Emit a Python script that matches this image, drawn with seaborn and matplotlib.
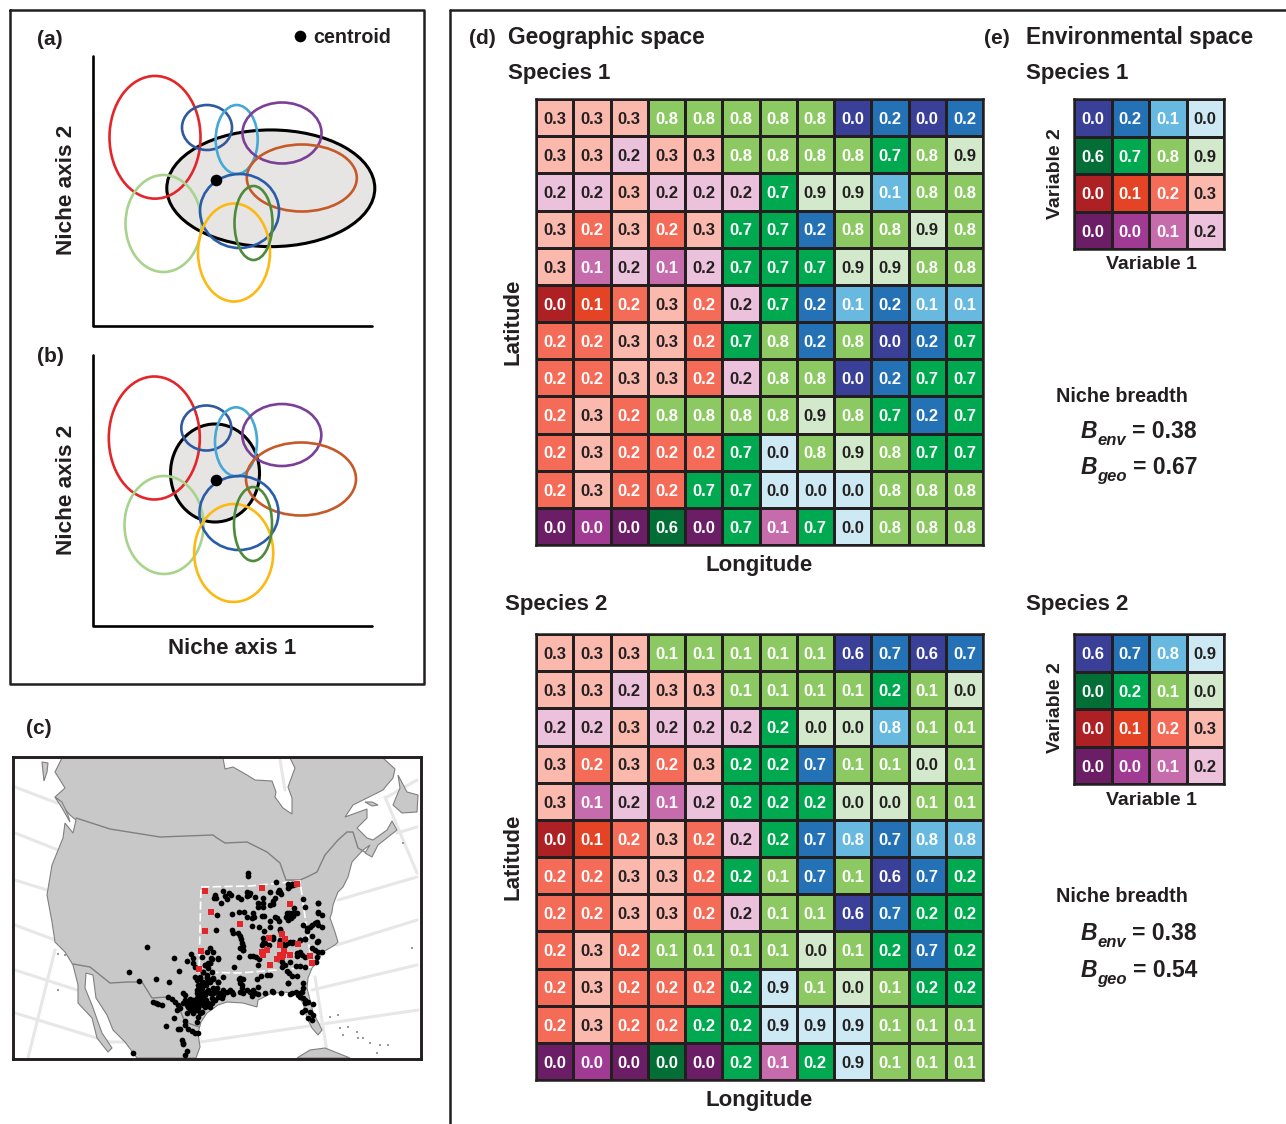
import numpy as np
import pandas as pd
import matplotlib
matplotlib.use("Agg")
import matplotlib.pyplot as plt
import seaborn as sns
from matplotlib.colors import ListedColormap
from matplotlib.patches import Ellipse, Polygon

sns.set_theme(style="white")
plt.rcParams["font.family"] = ["Liberation Sans", "DejaVu Sans"]
plt.rcParams["font.weight"] = "bold"

W, H = 1286, 1124
INK = "#231F20"

#16 environmental classes
class_names = ["B1", "B2", "B3", "B4", "G1", "G2", "G3", "G4",
               "R1", "R2", "R3", "R4", "P1", "P2", "P3", "P4"]
class_colors = ["#3A3F98", "#2472B5", "#68B9E0", "#CDE9F4",
                "#036F37", "#00A94F", "#8DC963", "#D2EACB",
                "#AD2023", "#E54325", "#F46B58", "#FBB9AE",
                "#6B1D66", "#A03A93", "#C66BAC", "#EBC1DC"]

geo_class = [
    "R4 R4 R4 G3 G3 G3 G3 G3 B1 B2 B1 B2",
    "R4 R4 P4 R4 R4 G3 G3 G3 G3 G2 G3 G4",
    "P4 P4 R4 P4 P4 P4 G2 G4 G4 B3 G3 G3",
    "R4 R3 R4 R3 R4 G2 G2 B2 G3 G3 G4 G3",
    "R4 P3 P4 P3 P4 G2 G2 G2 G4 G4 G3 G3",
    "R1 R2 R3 R4 R3 P4 G2 B2 B3 B2 B3 B3",
    "R3 R3 R4 R4 R3 G2 G3 B2 G3 B1 B2 G2",
    "R3 R3 R4 R4 R3 P4 G3 G3 B1 B2 G2 G2",
    "R3 R4 R3 G3 G3 G3 G3 G4 G3 G2 B2 G2",
    "R3 R4 R3 R3 R3 G2 B4 G3 G4 G3 G2 G2",
    "R3 R4 R3 R3 G2 G2 B4 B4 B4 G3 G3 G3",
    "P1 P2 P1 G1 P1 G2 P3 G2 B4 G3 G3 G3",
]
geo_sp1 = [
    [.3, .3, .3, .8, .8, .8, .8, .8, .0, .2, .0, .2],
    [.3, .3, .2, .3, .3, .8, .8, .8, .8, .7, .8, .9],
    [.2, .2, .3, .2, .2, .2, .7, .9, .9, .1, .8, .8],
    [.3, .2, .3, .2, .3, .7, .7, .2, .8, .8, .9, .8],
    [.3, .1, .2, .1, .2, .7, .7, .7, .9, .9, .8, .8],
    [.0, .1, .2, .3, .2, .2, .7, .2, .1, .2, .1, .1],
    [.2, .2, .3, .3, .2, .7, .8, .2, .8, .0, .2, .7],
    [.2, .2, .3, .3, .2, .2, .8, .8, .0, .2, .7, .7],
    [.2, .3, .2, .8, .8, .8, .8, .9, .8, .7, .2, .7],
    [.2, .3, .2, .2, .2, .7, .0, .8, .9, .8, .7, .7],
    [.2, .3, .2, .2, .7, .7, .0, .0, .0, .8, .8, .8],
    [.0, .0, .0, .6, .0, .7, .1, .7, .0, .8, .8, .8],
]
geo_sp2 = [
    [.3, .3, .3, .1, .1, .1, .1, .1, .6, .7, .6, .7],
    [.3, .3, .2, .3, .3, .1, .1, .1, .1, .2, .1, .0],
    [.2, .2, .3, .2, .2, .2, .2, .0, .0, .8, .1, .1],
    [.3, .2, .3, .2, .3, .2, .2, .7, .1, .1, .0, .1],
    [.3, .1, .2, .1, .2, .2, .2, .2, .0, .0, .1, .1],
    [.0, .1, .2, .3, .2, .2, .2, .7, .8, .7, .8, .8],
    [.2, .2, .3, .3, .2, .2, .1, .7, .1, .6, .7, .2],
    [.2, .2, .3, .3, .2, .2, .1, .1, .6, .7, .2, .2],
    [.2, .3, .2, .1, .1, .1, .1, .0, .1, .2, .7, .2],
    [.2, .3, .2, .2, .2, .2, .9, .1, .0, .1, .2, .2],
    [.2, .3, .2, .2, .2, .2, .9, .9, .9, .1, .1, .1],
    [.0, .0, .0, .0, .0, .2, .1, .2, .9, .1, .1, .1],
]
env_class = ["B1 B2 B3 B4", "G1 G2 G3 G4", "R1 R2 R3 R4", "P1 P2 P3 P4"]
env_sp1 = [[.0, .2, .1, .0], [.6, .7, .8, .9], [.0, .1, .2, .3], [.0, .0, .1, .2]]
env_sp2 = [[.6, .7, .8, .9], [.0, .2, .1, .0], [.0, .1, .2, .3], [.0, .0, .1, .2]]

#niche ellipses, order: gray, red, navy, sky, purple, orange, pale green, blue, yellow, dark green
ell_colors = ["#000000", "#E2262A", "#31599E", "#45A8D5", "#7B3F98", "#C55A28",
              "#A8D38D", "#2A5CA8", "#FDB913", "#4F8A3A"]
a_cx = [270.8, 155, 207, 236.7, 282, 301.8, 163.5, 239.5, 234, 253.5]
a_cy = [188.3, 137.3, 127.5, 139.5, 133, 178, 223.5, 211, 252.5, 223]
a_w = [208, 91, 50, 42, 79, 110, 76, 79, 72, 38]
a_h = [116.7, 122.7, 45, 69, 61, 67, 97, 74, 98, 74]
b_cx = [215, 154.3, 206.3, 236, 281.8, 301, 164, 239, 233.7, 253]
b_cy = [473, 438, 428, 441.8, 435, 479, 525, 513, 553, 524]
b_w = [89, 91, 50, 42, 79, 110, 79, 79, 79, 38]
b_h = [98, 123, 45, 69, 62, 73, 98, 74, 98, 74]

#map outlines, read in picture pixels
land_x = [62, 223, 225, 233, 247, 255, 272, 276, 275, 283, 292, 292, 288, 295, 290, 383, 395, 393, 387, 383,
          353, 345, 367, 367, 357, 367, 373, 387, 392, 397, 378, 372, 365, 370, 363, 352, 348, 343, 338, 336,
          333, 332, 330, 335, 338, 335, 323, 317, 312, 308, 307, 313, 322, 318, 312, 307, 303, 296, 282, 270,
          258, 257, 243, 227, 218, 207, 201, 198, 200, 196, 137, 125, 113, 107, 96, 93, 86, 85, 92, 98,
          102, 112, 108, 97, 92, 78, 78, 73, 65, 55, 52, 47, 52, 63, 65, 73, 76, 70, 55, 65, 55]
land_y = [758, 758, 769, 767, 775, 780, 781, 792, 797, 808, 814, 798, 787, 768, 758, 758, 769, 778, 785, 790,
          805, 817, 809, 818, 828, 838, 840, 830, 821, 830, 845, 857, 853, 845, 850, 862, 877, 887, 892, 897,
          905, 912, 918, 932, 942, 945, 952, 962, 968, 978, 988, 1012, 1030, 1035, 1028, 1018, 1003, 993, 992, 994,
          1000, 1007, 1003, 1002, 1005, 1013, 1022, 1033, 1047, 1058, 1058, 1042, 1030, 1015, 998, 975, 973, 988, 1005, 1022,
          1033, 1048, 1052, 1038, 1018, 1003, 985, 965, 952, 942, 922, 895, 865, 838, 823, 833, 820, 815, 797, 788, 772]
nfld_x = [398, 407, 418, 417, 402, 393, 400]
nfld_y = [775, 792, 795, 812, 813, 805, 788]
vanc_x = [55, 62, 68, 70, 62]
vanc_y = [797, 802, 815, 822, 808]
haida_x = [42, 48, 47, 44, 43]
haida_y = [762, 763, 772, 781, 772]
anti_x = [365, 372, 378, 372]
anti_y = [802, 802, 805, 806]
cuba_x = [297, 310, 325, 350]
cuba_y = [1058, 1050, 1048, 1058]
border_north_x = [76, 110, 160, 213, 217, 225, 247, 267, 280, 286, 300, 307, 317, 325, 338, 347, 353, 358, 365]
border_north_y = [818, 829, 837, 835, 838, 843, 842, 852, 863, 880, 880, 877, 872, 855, 840, 832, 832, 848, 852]
border_south_x = [73, 90, 110, 128, 142, 152, 167, 177, 185, 199]
border_south_y = [964, 967, 983, 982, 982, 998, 997, 1003, 1022, 1027]
grat_lines = [
    ([15, 57], [787, 803]), ([15, 58], [833, 850]), ([15, 47], [880, 890]),
    ([15, 55], [925, 940]), ([15, 77], [970, 990]), ([15, 110, 200, 418], [1013, 1042, 1042, 1010]),
    ([417, 387], [780, 797]), ([417, 397], [827, 833]), ([417, 338], [877, 900]),
    ([417, 337], [920, 945]), ([417, 312], [965, 990]),
    ([55, 28], [950, 1058]), ([385, 417], [797, 873]), ([280, 285], [760, 790]), ([315, 328], [977, 1058]),
]
box_x = [201, 250, 300, 312, 240, 199, 201]
box_y = [887, 886, 881, 967, 973, 972, 887]
island_x = [330, 338, 340, 343, 348, 357, 363, 370, 380, 388, 377, 358, 412, 403, 58, 58, 65]
island_y = [1017, 1015, 1028, 1035, 1027, 1032, 1038, 1043, 1045, 1045, 1053, 1038, 948, 843, 990, 954, 955]

occ_x = [248, 248, 276, 288, 290, 292, 288, 293, 296, 215, 216, 214, 223, 225, 229, 231, 227, 221, 238, 241,
         247, 248, 249, 247, 250, 255, 263, 270, 275, 273, 279, 280, 278, 281, 258, 258, 263, 263, 270, 273,
         239, 244, 253, 232, 217, 247, 252, 254, 262, 264, 270, 275, 277, 279, 287, 289, 292, 286, 288, 291,
         293, 288, 295, 297, 294, 303, 318, 318, 252, 259, 264, 270, 280, 281, 303, 307, 232, 233, 216, 238,
         240, 241, 242, 243, 240, 243, 263, 263, 282, 280, 290, 300, 305, 318, 310, 312, 315, 318, 317, 322,
         307, 318, 322, 318, 305, 241, 243, 239, 250, 253, 256, 258, 234, 218, 211, 259, 262, 265, 269, 273,
         273, 280, 280, 282, 285, 288, 292, 293, 300, 305, 312, 317, 312, 315, 318, 322, 297, 300, 302, 297,
         305, 317, 316, 278, 282, 285, 290, 296, 300, 305, 282, 287, 289, 292, 297, 288, 303, 303, 267, 261,
         257, 243, 239, 242, 242, 258, 223, 213, 218, 215, 220, 223, 222, 230, 232, 233, 240, 243, 247, 250,
         253, 252, 255, 258, 265, 272, 273, 281, 290, 292, 296, 298, 300, 302, 303, 305, 308, 313, 302, 305,
         310, 313, 308, 312, 305, 300, 147, 174, 129, 139, 156, 169, 179, 187, 191, 193, 193, 195, 207, 210,
         213, 212, 218, 202, 208, 205, 210, 203, 207, 212, 195, 200, 203, 210, 218, 200, 153, 156, 158, 162,
         168, 172, 175, 178, 180, 177, 183, 185, 187, 188, 190, 192, 193, 195, 197, 198, 200, 197, 202, 198,
         201, 203, 205, 208, 210, 212, 213, 216, 218, 222, 223, 227, 203, 205, 198, 195, 192, 188, 187, 193,
         200, 198, 202, 197, 185, 185, 174, 166, 178, 180, 188, 192, 195, 198, 182, 183, 183, 187, 185, 133,
         210, 208, 212, 215, 206, 207, 210, 207, 203, 208, 205, 210, 200, 202, 197, 183, 185, 190, 194, 196,
         199, 201, 204, 206, 207, 199, 196, 190, 193, 200, 203, 206, 197, 199, 201, 203, 207, 213, 217, 213,
         240, 240, 270, 288]
occ_y = [873, 876, 882, 884, 886, 884, 888, 885, 884, 895, 898, 898, 891, 896, 893, 895, 899, 903, 897, 899,
         892, 893, 895, 896, 893, 897, 898, 892, 898, 901, 890, 892, 892, 894, 903, 907, 903, 907, 905, 904,
         912, 912, 913, 914, 915, 917, 918, 917, 916, 916, 921, 917, 918, 921, 913, 913, 913, 917, 917, 918,
         916, 920, 913, 913, 908, 899, 903, 912, 926, 927, 931, 927, 929, 933, 925, 928, 930, 933, 930, 933,
         936, 939, 943, 946, 948, 950, 938, 943, 942, 940, 942, 940, 939, 941, 927, 925, 923, 925, 922, 927,
         931, 913, 915, 903, 907, 948, 950, 957, 956, 956, 957, 965, 967, 958, 958, 959, 945, 943, 945, 937,
         939, 930, 941, 945, 945, 943, 943, 942, 940, 939, 936, 942, 948, 950, 952, 952, 953, 952, 955, 956,
         957, 957, 962, 959, 962, 965, 962, 966, 966, 967, 967, 971, 973, 976, 976, 983, 983, 988, 975, 976,
         979, 979, 979, 985, 988, 987, 977, 979, 982, 992, 993, 995, 998, 990, 992, 994, 992, 993, 990, 992,
         990, 996, 993, 994, 993, 991, 992, 993, 994, 993, 992, 995, 997, 992, 998, 1000, 1002, 1004, 1012, 1010,
         1012, 1015, 1018, 1020, 1003, 993, 947, 958, 972, 981, 979, 982, 971, 961, 954, 958, 963, 967, 952, 948,
         952, 959, 959, 957, 963, 965, 963, 972, 978, 972, 977, 977, 982, 982, 982, 987, 1002, 1003, 1004, 1005,
         997, 999, 1002, 1005, 1008, 1010, 1003, 1000, 1005, 1002, 999, 1002, 1003, 1000, 998, 995, 992, 990, 988, 985,
         997, 1000, 995, 990, 993, 998, 988, 992, 997, 993, 990, 992, 1005, 1007, 1008, 1007, 1008, 1007, 1013, 1013,
         1013, 1017, 1012, 1022, 1021, 1025, 1018, 1026, 1029, 1029, 1029, 1031, 1033, 1033, 1040, 1043, 1044, 1051, 1055, 1053,
         1007, 1003, 1003, 1000, 985, 982, 980, 975, 972, 968, 965, 963, 978, 982, 980, 993, 995, 1005, 1005, 1003,
         1001, 1003, 1002, 1000, 1003, 1005, 1010, 1010, 1000, 995, 993, 992, 993, 987, 985, 983, 977, 978, 988, 993,
         978, 983, 975, 983]
red_x = [205, 211, 205, 201, 199, 262, 297, 240, 290, 282, 269, 285, 280, 298, 262, 267, 263, 284, 280, 283,
         282, 277, 290, 270, 310, 312]
red_y = [891, 912, 931, 951, 969, 888, 884, 924, 904, 934, 938, 939, 945, 944, 952, 950, 955, 951, 955, 955,
         957, 959, 955, 965, 956, 963]


def px_axes(x0, y0, x1, y1):
    return fig.add_axes([x0 / W, 1 - y1 / H, (x1 - x0) / W, (y1 - y0) / H])


def grid_panel(box, classes, values):
    codes = pd.DataFrame([[class_names.index(c) for c in row.split()] for row in classes])
    labels = np.array([["%.1f" % v for v in row] for row in values])
    ax = px_axes(*box)
    sns.heatmap(codes, ax=ax, cmap=ListedColormap(class_colors), vmin=-0.5, vmax=15.5, cbar=False,
                annot=labels, fmt="", linewidths=2.1, linecolor=INK,
                annot_kws={"fontsize": 12, "fontweight": "bold", "family": "Liberation Sans"})
    #light fourth-step cells take dark text
    for txt, code in zip(ax.texts, codes.values.ravel()):
        txt.set_color(INK if class_names[code].endswith("4") else "white")
        txt.set_y(txt.get_position()[1] + 0.05)
    ax.set_xticks([])
    ax.set_yticks([])
    ax.set_xlabel("")
    ax.set_ylabel("")
    for s in ax.spines.values():
        s.set_visible(True)
        s.set_color(INK)
        s.set_linewidth(1.8)


def label(x, y, s, size=16, **kw):
    kw.setdefault("ha", "left")
    kw.setdefault("va", "center")
    if kw.get("rotation"):
        x = x + 2
    else:
        y = y + 1.5
    bg.text(x, y, s, fontsize=size, fontweight="bold", color=INK, **kw)


def niche_panel(cx, cy, w, h, centroid):
    #ellipses first, so the black frame lines stay on top
    for i in range(len(cx)):
        bg.add_patch(Ellipse((cx[i], cy[i]), w[i], h[i], fill=i == 0, facecolor="#E6E5E4" if i == 0 else "none",
                             edgecolor=ell_colors[i], linewidth=2.2 if i == 0 else 1.9, zorder=2 + i * 0.01))
    sns.scatterplot(x=[centroid[0]], y=[centroid[1]], ax=bg, color="black", s=70, linewidth=0, zorder=3, legend=False)


fig = plt.figure(figsize=(W / 100, H / 100), dpi=100, facecolor="white")

#pixel-space layer for the frames, niche panels and labels
bg = px_axes(0, 0, W, H)
bg.set_xlim(0, W)
bg.set_ylim(H, 0)
bg.axis("off")

bg.plot([10, 424, 424, 10, 10], [10, 10, 684, 684, 10], color=INK, lw=1.8)
bg.plot([450, 450], [1124, 10], color=INK, lw=1.8)
bg.plot([450, 1286], [10, 10], color=INK, lw=1.8)

niche_panel(a_cx, a_cy, a_w, a_h, (216, 180))
niche_panel(b_cx, b_cy, b_w, b_h, (216, 480))
bg.plot([93, 93, 372], [56, 326, 326], color="black", lw=1.9, zorder=4)
bg.plot([93, 93, 372], [355, 626, 626], color="black", lw=1.9, zorder=4)
sns.scatterplot(x=[300], y=[36], ax=bg, color="black", s=70, linewidth=0, legend=False)

label(37, 38, "(a)", 15)
label(313, 36, "centroid", 14.2)
label(37, 355, "(b)", 15)
label(26, 727, "(c)", 15)
label(64, 190, "Niche axis 2", 16.2, rotation=90, ha="center")
label(64, 490, "Niche axis 2", 16.2, rotation=90, ha="center")
label(232, 647, "Niche axis 1", 16, ha="center")

label(469, 37, "(d)", 15)
label(508, 36, "Geographic space", 16.4)
label(984, 37, "(e)", 15)
label(1026, 36, "Environmental space", 16.3)
label(508, 72, "Species 1", 16)
label(1026, 72, "Species 1", 16)
label(505, 603, "Species 2", 16)
label(1026, 603, "Species 2", 16)
label(759, 564, "Longitude", 16, ha="center")
label(759, 1099, "Longitude", 16, ha="center")
label(511, 322, "Latitude", 16, rotation=90, ha="center")
label(511, 857, "Latitude", 16, rotation=90, ha="center")
label(1054, 174, "Variable 2", 14, rotation=90, ha="center")
label(1054, 708, "Variable 2", 14, rotation=90, ha="center")
label(1151, 263, "Variable 1", 14, ha="center")
label(1151, 799, "Variable 1", 14, ha="center")
label(1056, 395, "Niche breadth", 14.2)
label(1056, 895, "Niche breadth", 14.2)

for y0, name, val in [(430, "env", "0.38"), (466, "geo", "0.67"), (932, "env", "0.38"), (969, "geo", "0.54")]:
    label(1081, y0, "B", 16.5, style="italic")
    label(1097, y0 + 9, name, 12, style="italic")
    label(1132 if name == "env" else 1133, y0, "= " + val, 16.5)

#map panel
m = px_axes(13, 757, 421, 1059)
m.set_xlim(13, 421)
m.set_ylim(1059, 757)
m.set_xticks([])
m.set_yticks([])
m.set_facecolor("white")
for gx, gy in grat_lines:
    m.plot(gx, gy, color="#E7E7E7", lw=2.2, zorder=1)
for px, py in [(land_x, land_y), (nfld_x, nfld_y), (vanc_x, vanc_y), (haida_x, haida_y),
               (anti_x, anti_y), (cuba_x, cuba_y)]:
    m.add_patch(Polygon(np.column_stack([px, py]), closed=True, facecolor="#C8C8C8", edgecolor="#808080",
                        linewidth=0.8, zorder=2))
m.plot(border_north_x, border_north_y, color="#808080", lw=1.0, zorder=3)
m.plot(border_south_x, border_south_y, color="#808080", lw=1.0, zorder=3)
sns.scatterplot(x=island_x, y=island_y, ax=m, color="#999999", s=3, marker="s", linewidth=0, zorder=3, legend=False)
m.plot(box_x, box_y, color="white", lw=1.2, ls=(0, (5, 2)), zorder=4)
sns.scatterplot(x=occ_x, y=occ_y, ax=m, color="black", s=17, linewidth=0, zorder=5, legend=False)
sns.scatterplot(x=red_x, y=red_y, ax=m, color="#E2262A", s=18, marker="s", linewidth=0, zorder=6, legend=False)
m.set_xlabel("")
m.set_ylabel("")
for s in m.spines.values():
    s.set_visible(True)
    s.set_color(INK)
    s.set_linewidth(2.1)

#colour grids
grid_panel((536, 99, 983, 545), geo_class, geo_sp1)
grid_panel((536, 634, 983, 1080), geo_class, geo_sp2)
grid_panel((1074, 99, 1224, 249), env_class, env_sp1)
grid_panel((1074, 634, 1224, 784), env_class, env_sp2)

fig.savefig("out.png", dpi=100)
